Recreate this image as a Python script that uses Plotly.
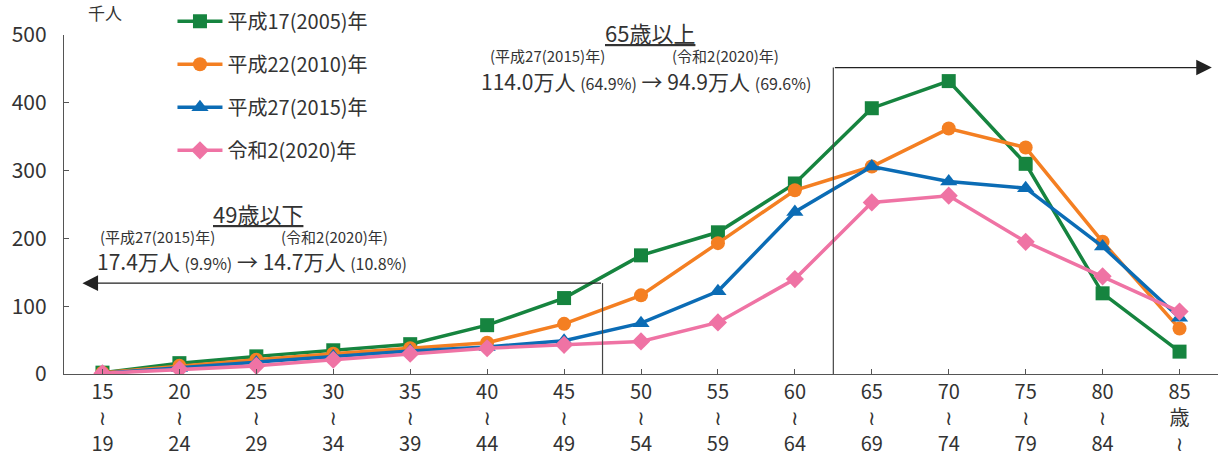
import plotly.graph_objects as go

# Age groups (5-year bands) and their axis labels
age_groups = ["15-19", "20-24", "25-29", "30-34", "35-39", "40-44", "45-49",
              "50-54", "55-59", "60-64", "65-69", "70-74", "75-79", "80-84", "85+"]
W = "<span style='font-family:DejaVu Sans'>≀</span>"
tick_labels = [f"15<br>{W}<br>19", f"20<br>{W}<br>24", f"25<br>{W}<br>29", f"30<br>{W}<br>34",
               f"35<br>{W}<br>39", f"40<br>{W}<br>44", f"45<br>{W}<br>49", f"50<br>{W}<br>54",
               f"55<br>{W}<br>59", f"60<br>{W}<br>64", f"65<br>{W}<br>69", f"70<br>{W}<br>74",
               f"75<br>{W}<br>79", f"80<br>{W}<br>84", f"85<br>歳<br>{W}"]

# Persons (thousands) by survey year
h17_2005 = [2, 16, 26, 35, 44, 72, 112, 175, 209, 281, 392, 432, 310, 119, 33]
h22_2010 = [2, 12, 21, 30, 38, 46, 74, 116, 193, 271, 306, 362, 334, 195, 67]
h27_2015 = [1, 9, 17, 26, 34, 40, 49, 75, 122, 239, 306, 284, 274, 188, 83]
r2_2020 = [1, 7, 12, 21, 30, 38, 43, 48, 76, 140, 253, 263, 195, 144, 92]

series = [
    ("平成17(2005)年", h17_2005, "#16843f", "square", 14),
    ("平成22(2010)年", h22_2010, "#f47f22", "circle", 14),
    ("平成27(2015)年", h27_2015, "#0b6cb5", "triangle-up", 15),
    ("令和2(2020)年", r2_2020, "#ef73a4", "diamond", 14),
]

FONT = "Noto Sans CJK JP"
TXT = "#333333"

fig = go.Figure()
for i, (name, vals, color, sym, size) in enumerate(series):
    fig.add_trace(go.Scatter(
        x=age_groups, y=vals, name=name, legendgroup=f"g{i}",
        mode="lines+markers",
        line=dict(color=color, width=3.5),
        marker=dict(symbol=sym, size=size, color=color),
    ))

# Bracket lines marking the two age ranges
line_style = dict(color="#444444", width=1.2)
fig.add_shape(type="line", x0=9.5, x1=9.5, y0=0, y1=452, xref="x", yref="y", line=line_style)
fig.add_shape(type="line", x0=6.5, x1=6.5, y0=0, y1=134, xref="x", yref="y", line=line_style)

# Horizontal arrows
fig.add_annotation(x=14.42, y=452, ax=9.5, ay=452, xref="x", yref="y", axref="x", ayref="y",
                   text="", showarrow=True, arrowhead=2, arrowsize=2.6, arrowwidth=1.2,
                   arrowcolor="#222222")
fig.add_annotation(x=-0.26, y=134, ax=6.5, ay=134, xref="x", yref="y", axref="x", ayref="y",
                   text="", showarrow=True, arrowhead=2, arrowsize=2.6, arrowwidth=1.2,
                   arrowcolor="#222222")

def note(x, y, text, size, ref="x"):
    yref = "y" if ref == "x" else "paper"
    fig.add_annotation(x=x, y=y, xref=ref, yref=yref, text=text, showarrow=False,
                       font=dict(family=FONT, size=size, color=TXT),
                       xanchor="center", yanchor="middle")

small = "<span style='font-size:16px'>{}</span>"

note(0.508, 1.009, "<u>65歳以上</u>", 22, ref="paper")
note(5.79, 470, "(平成27(2015)年)", 15)
note(8.10, 470, "(令和2(2020)年)", 15)
note(7.06, 432, "114.0万人 " + small.format("(64.9%)") + " → 94.9万人 " + small.format("(69.6%)"), 21)

note(2.02, 238, "<u>49歳以下</u>", 22)
note(0.72, 203, "(平成27(2015)年)", 15)
note(3.02, 203, "(令和2(2020)年)", 15)
note(1.94, 166, "17.4万人 " + small.format("(9.9%)") + " → 14.7万人 " + small.format("(10.8%)"), 21)

# Unit label
fig.add_annotation(x=0, y=1.065, xref="paper", yref="paper", text="千人", showarrow=False,
                   font=dict(family=FONT, size=17, color=TXT), xanchor="left", yanchor="middle",
                   xshift=22)

fig.update_layout(
    width=1218, height=457,
    margin=dict(l=64, r=0, t=35, b=83),
    paper_bgcolor="white", plot_bgcolor="white",
    font=dict(family=FONT, color=TXT),
    showlegend=True,
    legend=dict(x=0.094, y=1.098, xanchor="left", yanchor="top",
                font=dict(family=FONT, size=20, color=TXT),
                itemwidth=45,
                tracegroupgap=14, bgcolor="rgba(0,0,0,0)"),
    xaxis=dict(
        tickvals=age_groups, ticktext=tick_labels,
        range=[-0.5, 14.5],
        showline=True, linecolor="#555555", linewidth=1.2,
        ticks="inside", ticklen=5, tickcolor="#555555",
        showgrid=False, zeroline=False,
        tickfont=dict(family=FONT, size=20, color=TXT),
    ),
    yaxis=dict(
        range=[0, 500], tickvals=[0, 100, 200, 300, 400, 500],
        showline=True, linecolor="#555555", linewidth=1.2,
        ticks="inside", ticklen=5, tickcolor="#555555",
        showgrid=False, zeroline=False,
        tickfont=dict(family=FONT, size=21, color=TXT),
        ticklabelstandoff=12,
    ),
)

fig.write_html("out.html")
